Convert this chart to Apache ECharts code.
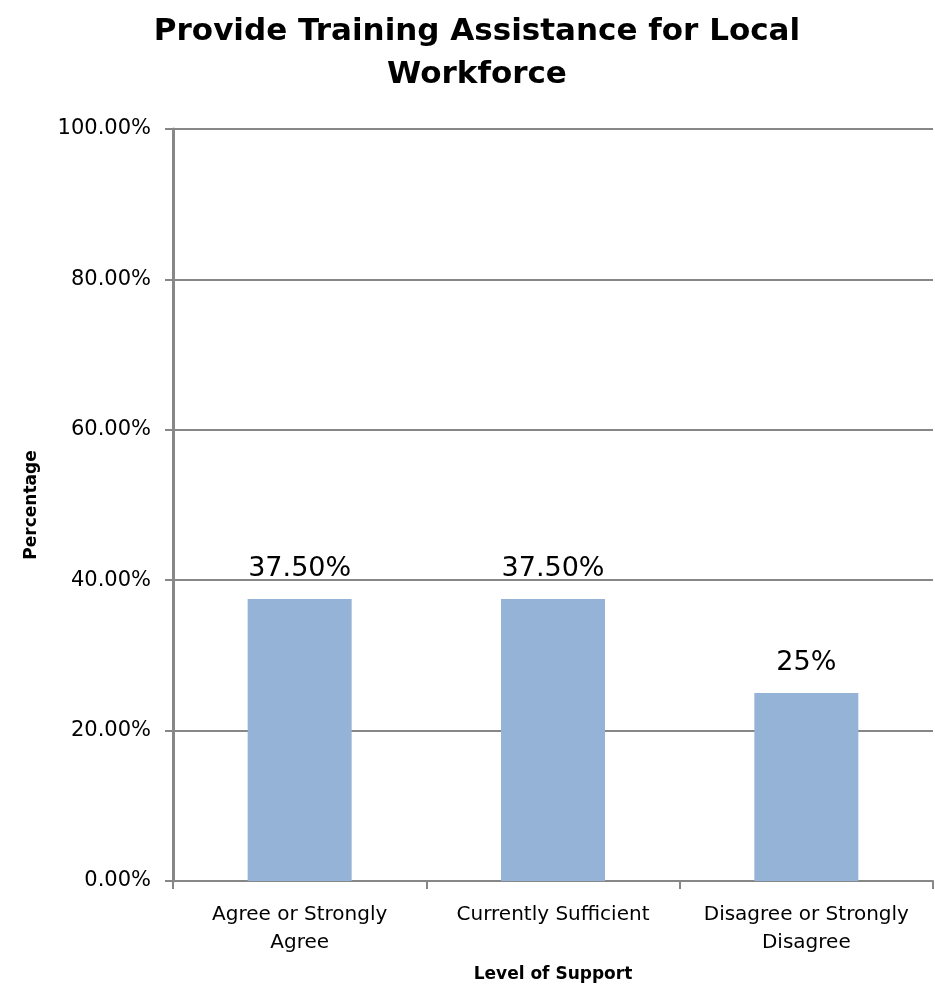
<!DOCTYPE html>
<html>
<head>
<meta charset="utf-8">
<style>
  html, body { margin: 0; padding: 0; background: #fff; }
  #chart { width: 935px; height: 990px; }
</style>
<script src="https://cdn.jsdelivr.net/npm/echarts@6/dist/echarts.min.js"></script>
</head>
<body>
<div id="chart"></div>
<script>
// Survey responses: support for training assistance for the local workforce
const categories = ['Agree or Strongly\nAgree', 'Currently Sufficient', 'Disagree or Strongly\nDisagree'];
const percentages = [37.5, 37.5, 25];
const valueLabels = ['37.50%', '37.50%', '25%'];
const yTicks = [0, 20, 40, 60, 80, 100];

const FONT = '"DejaVu Sans", "Liberation Sans", sans-serif';
const GRID_COLOR = '#878787';

const chart = echarts.init(document.getElementById('chart'), null, { renderer: 'canvas' });

chart.setOption({
  animation: false,
  backgroundColor: '#ffffff',
  title: {
    text: 'Provide Training Assistance for Local\nWorkforce',
    left: 472,
    textAlign: 'center',
    top: 5,
    textStyle: {
      fontFamily: FONT,
      fontWeight: 'bold',
      fontSize: 31,
      lineHeight: 43,
      color: '#000'
    }
  },
  grid: {
    left: 173,
    right: 2,
    top: 129,
    bottom: 109,
    containLabel: false
  },
  xAxis: {
    type: 'category',
    data: categories,
    name: 'Level of Support',
    nameLocation: 'middle',
    nameGap: 85,
    nameTextStyle: {
      fontFamily: FONT,
      fontWeight: 'bold',
      fontSize: 17,
      color: '#000'
    },
    axisLine: { show: true, lineStyle: { color: GRID_COLOR, width: 2 } },
    axisTick: { show: true, alignWithLabel: false, length: 8, lineStyle: { color: GRID_COLOR, width: 2 } },
    axisLabel: {
      fontFamily: FONT,
      fontSize: 20,
      color: '#000',
      margin: 20,
      lineHeight: 28,
      interval: 0
    }
  },
  yAxis: {
    type: 'value',
    min: 0,
    max: 100,
    interval: 20,
    name: 'Percentage',
    nameLocation: 'middle',
    nameGap: 133,
    nameRotate: 90,
    nameTextStyle: {
      fontFamily: FONT,
      fontWeight: 'bold',
      fontSize: 17,
      color: '#000'
    },
    axisLine: { show: true, lineStyle: { color: GRID_COLOR, width: 3 } },
    axisTick: { show: true, length: 8, lineStyle: { color: GRID_COLOR, width: 2 } },
    splitLine: { show: true, lineStyle: { color: GRID_COLOR, width: 2 } },
    axisLabel: {
      fontFamily: FONT,
      fontSize: 21,
      color: '#000',
      margin: 22,
      formatter: function (v) {
        return yTicks.indexOf(v) >= 0 ? v.toFixed(2) + '%' : '';
      }
    }
  },
  series: [{
    type: 'bar',
    data: percentages,
    barWidth: 104,
    itemStyle: { color: '#95B3D7' },
    label: {
      show: true,
      position: 'top',
      distance: 17,
      fontFamily: FONT,
      fontSize: 27,
      color: '#000',
      formatter: function (p) { return valueLabels[p.dataIndex]; }
    }
  }]
});
</script>
</body>
</html>
